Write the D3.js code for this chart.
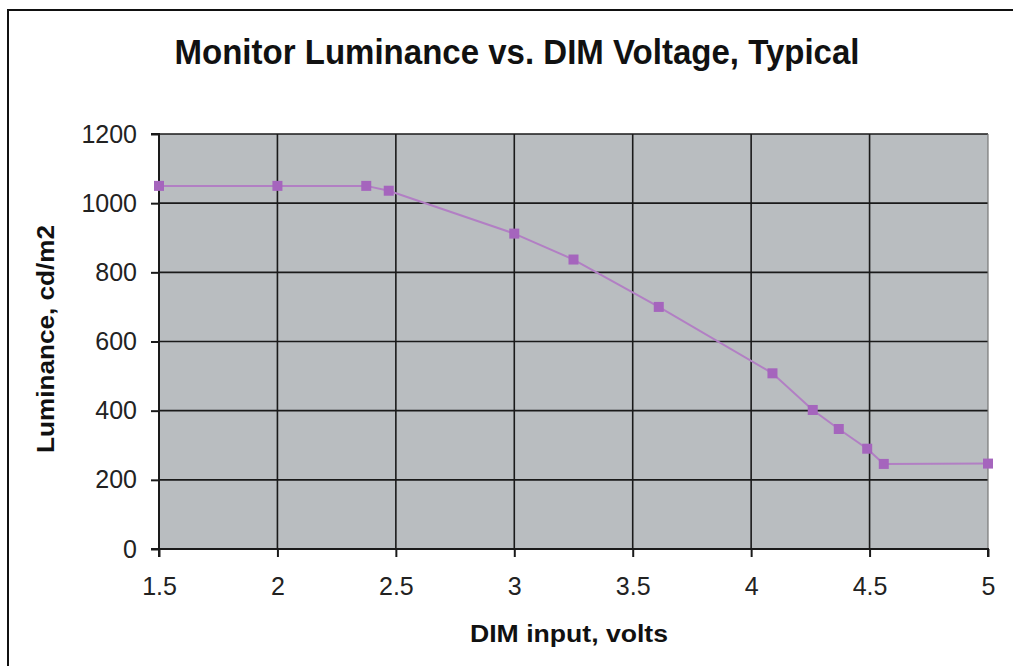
<!DOCTYPE html>
<html><head><meta charset="utf-8">
<script src="https://cdn.jsdelivr.net/npm/d3@7"></script>
<style>body{margin:0;background:#fff}svg{display:block}</style>
</head><body><svg id="c" width="1013" height="666"></svg>
<script>
const title = "Monitor Luminance vs. DIM Voltage, Typical";
const xTitle = "DIM input, volts";
const yTitle = "Luminance, cd/m2";
const voltage = [1.5, 2, 2.375, 2.47, 3, 3.25, 3.61, 4.09, 4.26, 4.37, 4.49, 4.56, 5];
const luminance = [1050, 1050, 1050, 1036, 912, 837, 700, 508, 402, 347, 290, 246, 247];
const xTicks = [1.5, 2, 2.5, 3, 3.5, 4, 4.5, 5];
const yTicks = [0, 200, 400, 600, 800, 1000, 1200];

const FONT = "Liberation Sans, Arial, sans-serif";
const svg = d3.select("#c");
const L = 159, R = 988, T = 134, B = 549;
const x = d3.scaleLinear().domain([1.5, 5]).range([L, R]);
const y = d3.scaleLinear().domain([0, 1200]).range([B, T]);

// outer frame
svg.append("path").attr("d", "M8,680 L8,10 L1020,10").attr("fill", "none").attr("stroke", "#111").attr("stroke-width", 2);

// plot background
svg.append("rect").attr("x", L).attr("y", T).attr("width", R - L).attr("height", B - T).attr("fill", "#b9bdc0");

// grid
const g = svg.append("g");
g.selectAll(".hg").data(yTicks.slice(1)).join("line")
  .attr("x1", L).attr("x2", R).attr("y1", d => y(d)).attr("y2", d => y(d))
  .attr("stroke", "#1a1a1a").attr("stroke-width", 1.6);
g.selectAll(".vg").data(xTicks.slice(1, -1)).join("line")
  .attr("y1", T).attr("y2", B).attr("x1", d => x(d)).attr("x2", d => x(d))
  .attr("stroke", "#1a1a1a").attr("stroke-width", 1.6);
svg.append("line").attr("x1", R).attr("x2", R).attr("y1", T).attr("y2", B).attr("stroke", "#777").attr("stroke-width", 1.2);

// axes
const xAxis = d3.axisBottom(x).tickValues(xTicks).tickFormat(d3.format("")).tickSize(8).tickPadding(20);
const yAxis = d3.axisLeft(y).tickValues(yTicks).tickFormat(d3.format("")).tickSize(8).tickPadding(14);
const ga = svg.append("g").attr("transform", `translate(0,${B})`).call(xAxis);
const gy = svg.append("g").attr("transform", `translate(${L},0)`).call(yAxis);
[ga, gy].forEach(a => {
  a.select(".domain").attr("stroke", "#1a1a1a").attr("stroke-width", 2);
  a.selectAll(".tick line").attr("stroke", "#1a1a1a").attr("stroke-width", 2);
  a.selectAll("text").attr("fill", "#222").style("font-family", FONT).style("font-size", "25px");
});
ga.selectAll("text").attr("dy", "0");
ga.selectAll("text").attr("y", 46);
gy.select(".domain").attr("d", `M-8,${T}H0V${B}H-8`);
ga.select(".domain").attr("d", `M${L},8V0H${R}V8`);

// line
const pts = voltage.map((v, i) => [v, luminance[i]]);
svg.append("path").datum(pts)
  .attr("d", d3.line().x(d => x(d[0])).y(d => y(d[1])))
  .attr("fill", "none").attr("stroke", "#b27fc4").attr("stroke-width", 2);
svg.selectAll(".m").data(pts).join("rect")
  .attr("x", d => x(d[0]) - 5).attr("y", d => y(d[1]) - 5)
  .attr("width", 10).attr("height", 10).attr("fill", "#a565bd");

// titles
svg.append("text").attr("x", 517).attr("y", 64).attr("text-anchor", "middle")
  .attr("textLength", 685).attr("lengthAdjust", "spacingAndGlyphs")
  .style("font-family", FONT).style("font-weight", "bold").style("font-size", "35px")
  .attr("fill", "#111").text(title);
svg.append("text").attr("x", 569).attr("y", 642).attr("text-anchor", "middle")
  .attr("textLength", 198).attr("lengthAdjust", "spacingAndGlyphs")
  .style("font-family", FONT).style("font-weight", "bold").style("font-size", "24px")
  .attr("fill", "#111").text(xTitle);
svg.append("text").attr("transform", `translate(54,339) rotate(-90)`).attr("text-anchor", "middle")
  .attr("textLength", 228).attr("lengthAdjust", "spacingAndGlyphs")
  .style("font-family", FONT).style("font-weight", "bold").style("font-size", "24px")
  .attr("fill", "#111").text(yTitle);
</script></body></html>
